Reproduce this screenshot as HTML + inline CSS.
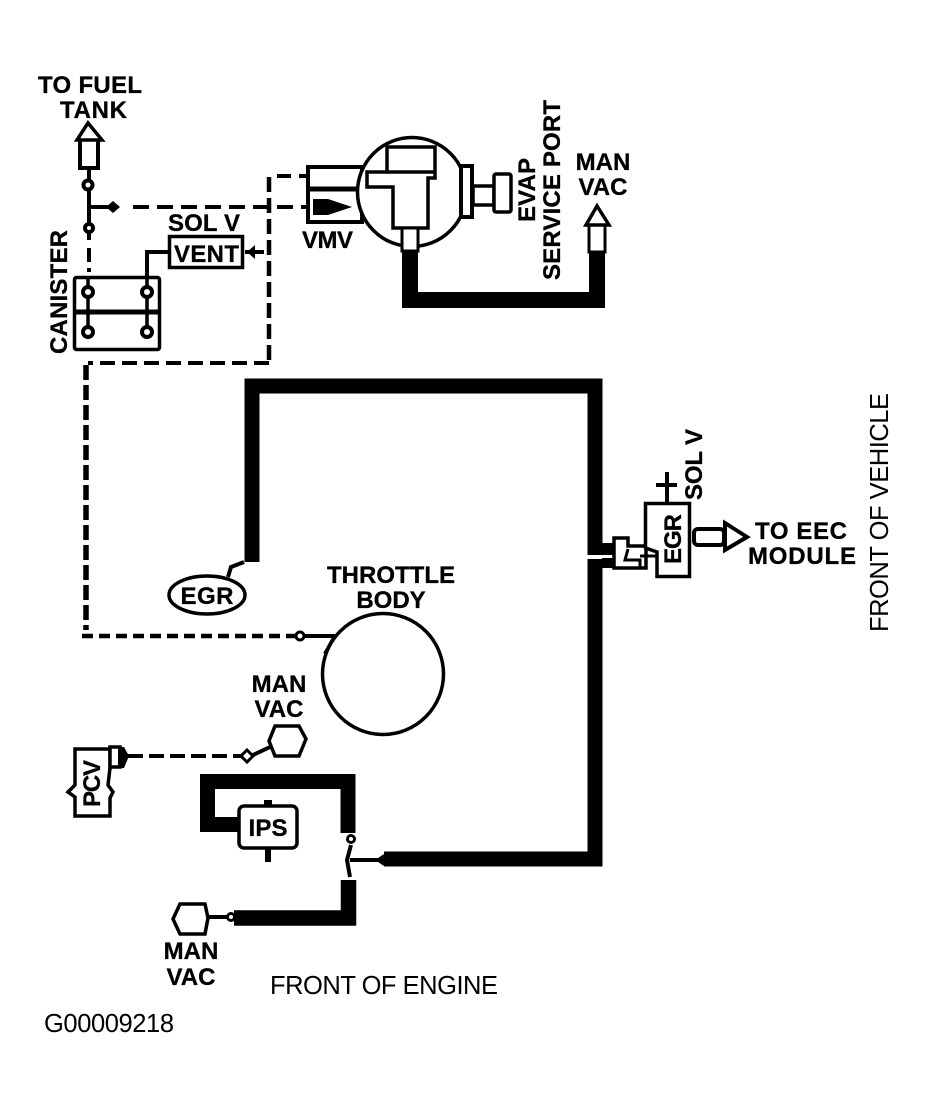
<!DOCTYPE html>
<html>
<head>
<meta charset="utf-8">
<style>
html,body{margin:0;padding:0;background:#fff;width:926px;height:1107px;overflow:hidden}
svg{display:block}
text{font-family:"Liberation Sans",sans-serif;font-weight:bold;font-size:24px;fill:#000;stroke:#000;stroke-width:.3px}
.r{font-weight:normal;font-size:25.5px;stroke:none}
</style>
</head>
<body>
<svg width="926" height="1107" viewBox="0 0 926 1107" xmlns="http://www.w3.org/2000/svg">
<rect width="926" height="1107" fill="#fff"/>

<!-- thick hoses -->
<g fill="none" stroke="#000" stroke-linejoin="miter">
<path d="M410 250V300H597V250" stroke-width="16"/>
<path d="M252 562V386H595V555" stroke-width="15"/>
<path d="M595 559V859H384" stroke-width="15"/>
<path d="M348 833V781.500H207.500V824.500H242" stroke-width="15"/>
<path d="M348.500 880V918H234" stroke-width="15.500"/>
</g>

<!-- thin solid wires -->
<g fill="none" stroke="#000" stroke-width="4">
<path d="M89 168V240"/>
<path d="M89 207H118"/>
<path d="M147 340V252H168"/>
<path d="M88 277V340"/>
<path d="M245 252H264" />
<path d="M244 562L231 567L228 577"/>
<path d="M304 636H335"/>
<path d="M335 636L325 654"/>
<path d="M351 845L347 860L350 877"/>
<path d="M350 860H378"/>
<path d="M208 917H228"/>
<path d="M253 755L270 747"/>
<path d="M667 472V503"/>
<path d="M656 485H677" />
</g>

<!-- dashed lines -->
<g fill="none" stroke="#000" stroke-width="4">
<path d="M133 207H306" stroke-dasharray="16 8"/>
<path d="M277 176H306" stroke-dasharray="14 8"/>
<path d="M269 177V363" stroke-dasharray="15 6" stroke-width="4.500"/>
<path d="M269 363H88" stroke-dasharray="15 7"/>
<path d="M89 248V272" stroke-dasharray="14 6"/>
<path d="M86 365V630" stroke-dasharray="15 5" stroke-width="5.500"/>
<path d="M82 636H296" stroke-dasharray="11 6" stroke-width="4.500"/>
<path d="M128 756H243" stroke-dasharray="15 6"/>
</g>

<!-- fuel tank arrow -->
<path d="M80 141V168H98V141" fill="#fff" stroke="#000" stroke-width="4"/>
<path d="M77 140L88 123L102 140Z" fill="#fff" stroke="#000" stroke-width="3.500"/>
<g fill="#fff" stroke="#000" stroke-width="4">
<circle cx="88" cy="185" r="4.500"/>
<circle cx="89" cy="228" r="4"/>
</g>
<path d="M106 207L113 201L120 207L113 213Z" fill="#000"/>

<!-- canister -->
<rect x="74.500" y="277.500" width="85" height="72" rx="2" fill="#fff" stroke="#000" stroke-width="3.500"/>
<path d="M74 312H160" stroke="#000" stroke-width="5"/>
<path d="M88 277V332M147 277V332" stroke="#000" stroke-width="3.500"/>
<g fill="#fff" stroke="#000" stroke-width="4">
<circle cx="88" cy="292" r="5"/>
<circle cx="147" cy="292" r="5"/>
<circle cx="88" cy="332" r="5"/>
<circle cx="147" cy="332" r="5"/>
</g>
<text transform="translate(67 354) rotate(-90)" textLength="124">CANISTER</text>

<!-- vent -->
<rect x="169.500" y="236.500" width="73" height="31" fill="#fff" stroke="#000" stroke-width="3.500"/>
<text x="168" y="231" textLength="72">SOL V</text>
<text x="174" y="262" textLength="65">VENT</text>
<path d="M247 252L255 245V259Z" fill="#000"/>

<!-- VMV -->
<rect x="308" y="167" width="54" height="55" fill="#fff" stroke="#000" stroke-width="4"/>
<path d="M306 189H358" stroke="#000" stroke-width="5"/>
<circle cx="412" cy="192" r="54.500" fill="#fff" stroke="#000" stroke-width="3.500"/>
<path d="M387 147H435V178H428V228H393V187H367V172H387Z" fill="#fff" stroke="#000" stroke-width="3.500"/>
<path d="M387 172H435" stroke="#000" stroke-width="3.500"/>
<rect x="402" y="228" width="16" height="23" fill="#fff" stroke="#000" stroke-width="3"/>
<path d="M313 199H328L352 207L328 215H313Z" fill="#000"/>
<text x="302" y="248" textLength="51">VMV</text>

<!-- EVAP port -->
<rect x="461" y="166" width="11" height="51" fill="#fff" stroke="#000" stroke-width="4"/>
<rect x="473" y="186" width="21" height="19" fill="#fff" stroke="#000" stroke-width="3.500"/>
<rect x="494" y="174" width="17" height="38" rx="2" fill="#fff" stroke="#000" stroke-width="3.500"/>
<text transform="translate(535 222) rotate(-90)" textLength="64">EVAP</text>
<text transform="translate(560 280) rotate(-90)" textLength="180">SERVICE PORT</text>

<!-- man vac arrow top -->
<path d="M589 226V252H605V226" fill="#fff" stroke="#000" stroke-width="3"/>
<path d="M586 225L597 206L609 225Z" fill="#fff" stroke="#000" stroke-width="3.500"/>
<text x="603" y="170" text-anchor="middle">MAN</text>
<text x="603" y="195" text-anchor="middle">VAC</text>

<!-- EGR sol v -->
<path d="M602 543H615V555H602ZM602 558H615V568H602Z" fill="#000"/>
<path d="M614 538H628V546H646V568H614Z" fill="#fff" stroke="#000" stroke-width="3.500"/>
<path d="M645.500 503.500H689.500V576.500H657V552L645.500 548Z" fill="#fff" stroke="#000" stroke-width="3.500"/>
<path d="M628 549L625 560H640V567M640 556H657" stroke="#000" stroke-width="3" fill="none"/>
<text transform="translate(681 564) rotate(-90)" textLength="50">EGR</text>
<text transform="translate(702 500) rotate(-90)" textLength="71">SOL V</text>
<rect x="694" y="529" width="30" height="16" rx="4" fill="#fff" stroke="#000" stroke-width="4"/>
<path d="M725 523L747 537L725 550Z" fill="#fff" stroke="#000" stroke-width="4"/>
<text x="755" y="539" textLength="92">TO EEC</text>
<text x="748" y="564" textLength="108">MODULE</text>

<!-- EGR oval -->
<ellipse cx="207" cy="595" rx="38" ry="19" fill="#fff" stroke="#000" stroke-width="3.500"/>
<text x="207" y="604" text-anchor="middle" textLength="53">EGR</text>

<!-- throttle body -->
<circle cx="383" cy="674" r="60.500" fill="#fff" stroke="#000" stroke-width="3.500"/>
<text x="391" y="583" text-anchor="middle">THROTTLE</text>
<text x="391" y="608" text-anchor="middle">BODY</text>
<circle cx="300" cy="636" r="4" fill="#fff" stroke="#000" stroke-width="3"/>

<!-- man vac upper -->
<text x="279" y="692" text-anchor="middle">MAN</text>
<text x="279" y="717" text-anchor="middle">VAC</text>
<path d="M275 726H299L306 739L299 756H275L269 741Z" fill="#fff" stroke="#000" stroke-width="3.500"/>
<path d="M247 750L253 756L247 762L241 756Z" fill="#fff" stroke="#000" stroke-width="3"/>

<!-- PCV -->
<path d="M75 749H110V768L108 785L113 792L110 798V816H75V797L68 792L75 785Z" fill="#fff" stroke="#000" stroke-width="3.500"/>
<rect x="110" y="747" width="10" height="20" fill="#fff" stroke="#000" stroke-width="3.500"/>
<path d="M118 747H124L129 756L124 768H118Z" fill="#000"/>
<text transform="translate(100 807) rotate(-90)" textLength="47">PCV</text>

<!-- IPS -->
<rect x="239" y="806" width="58" height="42" rx="5" fill="#fff" stroke="#000" stroke-width="3.500"/>
<path d="M264 806V800H272V806" fill="#000"/>
<path d="M268 848V862" stroke="#000" stroke-width="6"/>
<text x="268" y="836" text-anchor="middle" textLength="39">IPS</text>
<circle cx="351" cy="839" r="3.500" fill="#fff" stroke="#000" stroke-width="3"/>
<path d="M375 860L384 854V866Z" fill="#000"/>

<!-- man vac lower -->
<path d="M180 904H205L208 918L205 934H180L173 919Z" fill="#fff" stroke="#000" stroke-width="3.500"/>
<circle cx="231" cy="917" r="3.500" fill="#fff" stroke="#000" stroke-width="3"/>
<text x="191" y="959" text-anchor="middle">MAN</text>
<text x="191" y="985" text-anchor="middle">VAC</text>

<!-- labels -->
<text x="38" y="93" textLength="104">TO FUEL</text>
<text x="60" y="118" textLength="67">TANK</text>
<text class="r" x="270" y="994" textLength="228">FRONT OF ENGINE</text>
<text class="r" x="44" y="1032" textLength="130">G00009218</text>
<text class="r" transform="translate(888 632) rotate(-90)" textLength="239">FRONT OF VEHICLE</text>
</svg>
</body>
</html>
